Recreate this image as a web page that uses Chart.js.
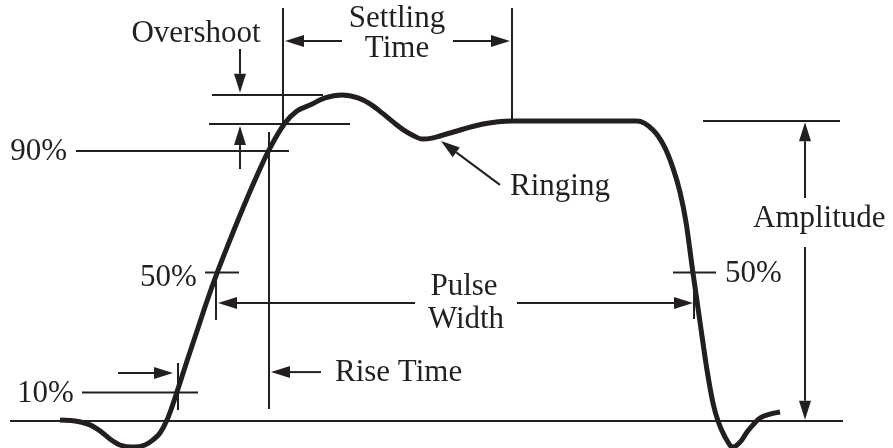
<!DOCTYPE html>
<html>
<head>
<meta charset="utf-8">
<title>Pulse parameters</title>
<script src="https://cdn.jsdelivr.net/npm/chart.js@4.4.1/dist/chart.umd.min.js"></script>
<style>
  html, body { margin: 0; padding: 0; background: #fff; }
  #wrap { width: 893px; height: 448px; position: relative; }
</style>
</head>
<body>
<div id="wrap"><canvas id="pulseChart"></canvas></div>
<script>
/* ─────────────────────────────────────────
   DATA: pulse waveform (time units, % of amplitude)
───────────────────────────────────────── */
const timeValues  = [60, 75, 90, 100, 110, 120, 133, 145, 153, 160, 167, 172, 177, 187, 197, 207,
                     217, 228, 243, 255, 268, 285, 297, 310, 325, 342, 358, 370, 382, 393, 405,
                     414, 422, 432, 450, 483, 512, 637, 653, 664, 673, 680, 686, 693, 700, 707,
                     713, 718, 725, 733, 741, 747, 753, 760, 770, 780];
const signalLevel = [0.3, 0, -1.3, -3.3, -6, -8, -8.7, -8, -6.3, -4, 0.3, 4.7, 9.7, 20, 30, 40,
                     49.3, 58.7, 71, 80.3, 89.7, 99.3, 103.3, 105.3, 107.7, 108.7, 107.7, 105.7, 102.7, 99.7, 96.7,
                     95, 94, 94.3, 96, 99, 100, 100, 97, 91.7, 84.3, 76.3, 66.3, 49.3, 33, 17,
                     6, 0, -5.3, -8.7, -6.7, -3.7, -1.3, 1, 2.3, 3];

// reference levels (% of amplitude)
const refLevels = { base: 0, p10: 9.5, p50: 49.5, p90: 90, top: 100, flat: 99, overshoot: 108.7 };
// reference times
const refTimes  = { t10: 178, t50rise: 216, t90: 269, settleStart: 283, settleEnd: 512, t50fall: 694 };

const labelTexts = ['Overshoot', 'Settling', 'Time', '90%', 'Ringing', 'Amplitude',
                    '50%', 'Pulse', 'Width', 'Rise Time', '10%', '50%'];

const INK = '#231f20';
const FONT = '31px "Liberation Serif", "Times New Roman", serif';

/* ─────────────────────────────────────────
   Annotation plugin (drawn through the scales)
───────────────────────────────────────── */
const annotations = {
  id: 'pulseAnnotations',
  beforeDatasetsDraw(chart) {
    const { ctx, scales: { x, y } } = chart;
    const X = (t) => x.getPixelForValue(t);
    const Y = (v) => y.getPixelForValue(v);

    function line(t1, v1, t2, v2, w) {
      ctx.beginPath();
      ctx.lineWidth = w || 2;
      ctx.moveTo(X(t1), Y(v1));
      ctx.lineTo(X(t2), Y(v2));
      ctx.stroke();
    }

    function arrow(t1, v1, t2, v2) {
      const x1 = X(t1), y1 = Y(v1), x2 = X(t2), y2 = Y(v2);
      const ang = Math.atan2(y2 - y1, x2 - x1);
      const len = 19, half = 6;
      const bx = x2 - len * Math.cos(ang), by = y2 - len * Math.sin(ang);
      ctx.beginPath();
      ctx.lineWidth = 2;
      ctx.moveTo(x1, y1);
      ctx.lineTo(bx, by);
      ctx.stroke();
      ctx.beginPath();
      ctx.moveTo(x2, y2);
      ctx.lineTo(bx + half * Math.sin(ang), by - half * Math.cos(ang));
      ctx.lineTo(bx - half * Math.sin(ang), by + half * Math.cos(ang));
      ctx.closePath();
      ctx.fill();
    }

    function text(str, t, v, align) {
      ctx.textAlign = align || 'left';
      ctx.textBaseline = 'alphabetic';
      ctx.fillText(str, X(t), Y(v));
    }

    ctx.save();
    ctx.strokeStyle = INK;
    ctx.fillStyle = INK;
    ctx.font = FONT;
    ctx.lineCap = 'butt';

    // baseline
    line(10, refLevels.base, 843, refLevels.base, 2.2);

    // settling time
    line(refTimes.settleStart, 137.7, refTimes.settleStart, 98.7);
    line(refTimes.settleEnd, 137.7, refTimes.settleEnd, refLevels.top);
    arrow(342, 126.7, refTimes.settleStart + 2, 126.7);
    arrow(453, 126.7, refTimes.settleEnd - 2, 126.7);

    // overshoot
    line(212, refLevels.overshoot, 323, refLevels.overshoot);
    line(209, refLevels.flat, 350, refLevels.flat);
    arrow(240, 124, 240, 109.4);
    arrow(240, 84, 240, 98.3);

    // 90 % and rise time
    line(76, refLevels.p90, 289, refLevels.p90);
    line(refTimes.t90, 96.3, refTimes.t90, 4);
    arrow(321, 16.3, refTimes.t90 + 2, 16.3);

    // 10 %
    line(82, refLevels.p10, 198, refLevels.p10);
    line(refTimes.t10, 19.3, refTimes.t10, 3.7);
    arrow(118, 16, refTimes.t10 - 5, 16);

    // 50 % rising
    line(205, refLevels.p50, 239, refLevels.p50);
    line(refTimes.t50rise, 47.7, refTimes.t50rise, 33.7);

    // pulse width
    arrow(415, 39.3, refTimes.t50rise + 2, 39.3);
    arrow(517, 39.3, refTimes.t50fall - 1, 39.3);

    // 50 % falling
    line(673, refLevels.p50, 716, refLevels.p50);
    line(refTimes.t50fall, 44.3, refTimes.t50fall, 34);

    // amplitude
    line(703, refLevels.top, 840, refLevels.top);
    arrow(805, 74.3, 805, 99.6);
    arrow(805, 58, 805, 0.4);

    // ringing
    arrow(500, 78.7, 441, 93.3);

    // labels
    text(labelTexts[0], 196, 126.3, 'center');
    text(labelTexts[1], 397, 131.3, 'center');
    text(labelTexts[2], 397, 121.3, 'center');
    text(labelTexts[3], 67, 87, 'right');
    text(labelTexts[4], 510, 75.3);
    text(labelTexts[5], 753, 64.7);
    text(labelTexts[6], 140, 45);
    text(labelTexts[7], 464, 42, 'center');
    text(labelTexts[8], 466, 31, 'center');
    text(labelTexts[9], 335, 13.3);
    text(labelTexts[10], 17, 6.3);
    text(labelTexts[11], 725, 46.3);

    ctx.restore();
  }
};

/* ─────────────────────────────────────────
   CHART.JS – waveform
───────────────────────────────────────── */
const points = timeValues.map((t, i) => ({ x: t, y: signalLevel[i] }));

new Chart(document.getElementById('pulseChart'), {
  type: 'line',
  data: {
    datasets: [{
      data: points,
      borderColor: INK,
      borderWidth: 5,
      pointRadius: 0,
      fill: false,
      cubicInterpolationMode: 'monotone',
      borderCapStyle: 'butt',
      borderJoinStyle: 'round',
      clip: false
    }]
  },
  options: {
    responsive: true,
    maintainAspectRatio: false,
    animation: false,
    layout: { padding: 0 },
    plugins: { legend: { display: false }, tooltip: { enabled: false } },
    scales: {
      x: { type: 'linear', display: false, min: 0, max: 893 },
      y: { type: 'linear', display: false, min: -9, max: 140.33 }
    }
  },
  plugins: [annotations]
});
</script>
</body>
</html>
